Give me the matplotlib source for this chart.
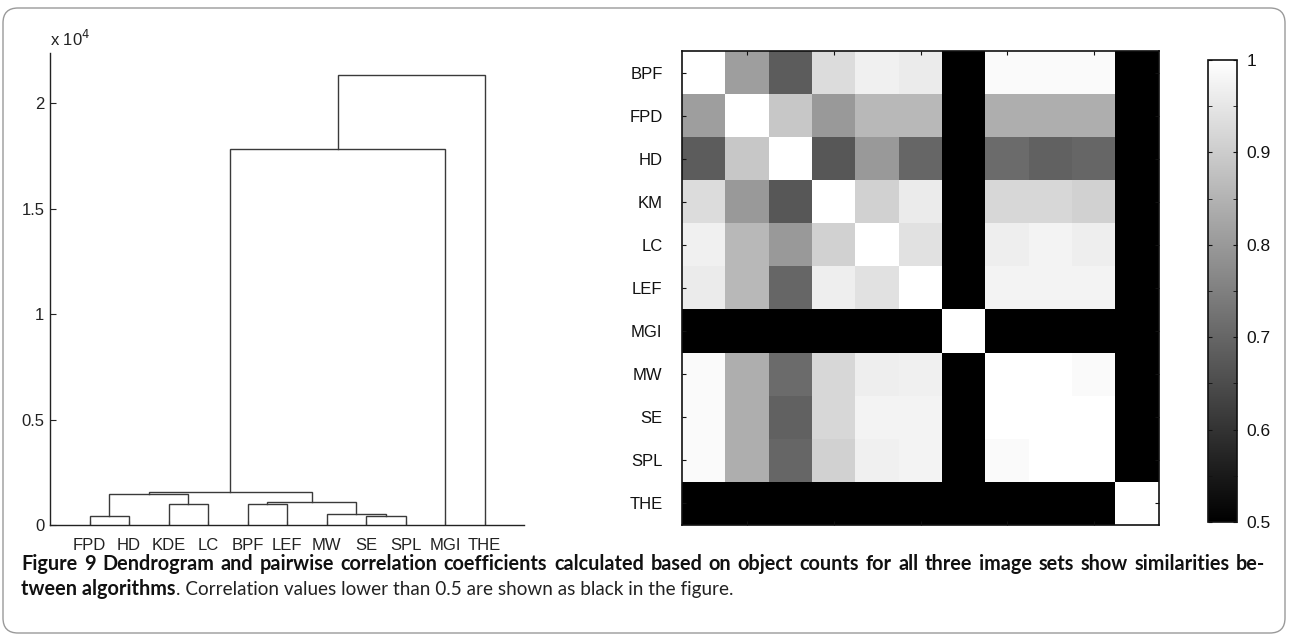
import numpy as np
import matplotlib.pyplot as plt
import matplotlib.ticker as ticker
from matplotlib.patches import FancyBboxPatch

# dendrogram (leaf order as drawn) and merge heights
leaf_labels = ['FPD', 'HD', 'KDE', 'LC', 'BPF', 'LEF', 'MW', 'SE', 'SPL', 'MGI', 'THE']
# (left node, right node, height); leaves are 0..10, merge k makes node 11+k
merges = [(0, 1, 430), (7, 8, 440), (6, 12, 520), (2, 3, 980), (4, 5, 1010),
          (15, 13, 1100), (11, 14, 1470), (17, 16, 1550), (18, 9, 17800),
          (19, 10, 21330)]

# pairwise correlation matrix
algos = ['BPF', 'FPD', 'HD', 'KM', 'LC', 'LEF', 'MGI', 'MW', 'SE', 'SPL', 'THE']
corr = [
    [1.00, 0.81, 0.68, 0.93, 0.97, 0.96, 0.30, 0.99, 0.99, 0.99, 0.30],
    [0.81, 1.00, 0.89, 0.80, 0.86, 0.86, 0.30, 0.84, 0.84, 0.84, 0.30],
    [0.68, 0.89, 1.00, 0.67, 0.80, 0.70, 0.30, 0.71, 0.69, 0.70, 0.30],
    [0.93, 0.80, 0.67, 1.00, 0.91, 0.96, 0.30, 0.92, 0.92, 0.91, 0.30],
    [0.97, 0.86, 0.80, 0.91, 1.00, 0.94, 0.30, 0.965, 0.975, 0.965, 0.30],
    [0.96, 0.86, 0.70, 0.965, 0.94, 1.00, 0.30, 0.975, 0.975, 0.975, 0.30],
    [0.30, 0.30, 0.30, 0.30, 0.30, 0.30, 1.00, 0.30, 0.30, 0.30, 0.30],
    [0.99, 0.84, 0.71, 0.92, 0.965, 0.97, 0.30, 1.00, 1.00, 0.99, 0.30],
    [0.99, 0.84, 0.69, 0.92, 0.975, 0.975, 0.30, 1.00, 1.00, 1.00, 0.30],
    [0.99, 0.84, 0.70, 0.91, 0.97, 0.975, 0.30, 0.99, 1.00, 1.00, 0.30],
    [0.30, 0.30, 0.30, 0.30, 0.30, 0.30, 0.30, 0.30, 0.30, 0.30, 1.00],
]
cbar_ticks = [0.5, 0.6, 0.7, 0.8, 0.9, 1.0]

caption_bold = ('Figure 9 Dendrogram and pairwise correlation coefficients calculated based on '
                'object counts for all three image sets show similarities be-')
caption_bold2 = 'tween algorithms'
caption_rest = '. Correlation values lower than 0.5 are shown as black in the figure.'

plt.rcParams['font.family'] = ['Liberation Sans', 'DejaVu Sans']
plt.rcParams['font.size'] = 12

W, H = 1289, 636
fig = plt.figure(figsize=(W / 100, H / 100), dpi=100)

def px_axes(x0, x1, y0, y1):
    # pixel box (top-down y) -> figure fraction axes
    return fig.add_axes([x0 / W, (H - y1) / H, (x1 - x0) / W, (y1 - y0) / H])

# rounded frame
frame = FancyBboxPatch((0.03, 0.03), 12.82, 6.25,
                       boxstyle='round,pad=0,rounding_size=0.15',
                       transform=fig.dpi_scale_trans, facecolor='none',
                       edgecolor='#9a9a9a', linewidth=1.0)
fig.patches.append(frame)

# ---- dendrogram
ax1 = px_axes(50, 524, 53, 525)
line_c = '#3a3a3a'
pos = {i: (i + 1.0, 0.0) for i in range(len(leaf_labels))}
for k, (a, b, h) in enumerate(merges):
    xa, ha = pos[a]
    xb, hb = pos[b]
    ax1.plot([xa, xa, xb, xb], [ha, h, h, hb], color=line_c, lw=1.0,
             solid_joinstyle='miter')
    pos[len(leaf_labels) + k] = ((xa + xb) / 2, h)

ax1.set_xlim(0, 12)
ax1.set_ylim(0, 22370)
ax1.set_xticks(range(1, len(leaf_labels) + 1))
ax1.set_xticklabels(leaf_labels)
ax1.set_yticks([0, 5000, 10000, 15000, 20000])
ax1.yaxis.set_major_formatter(ticker.FuncFormatter(lambda v, _: f'{v / 1e4:g}'))
ax1.spines['top'].set_visible(False)
ax1.spines['right'].set_visible(False)
for s in ('left', 'bottom'):
    ax1.spines[s].set_color('#222222')
    ax1.spines[s].set_linewidth(1.0)
ax1.tick_params(axis='x', direction='in', length=3, pad=9, colors='#222222',
                labelsize=12)
ax1.tick_params(axis='y', direction='in', length=4, pad=4, colors='#222222',
                labelsize=12)
fig.text(50 / W, 1 - 46 / H, r'x 10$^4$', fontsize=12, color='#222222',
         ha='left', va='baseline')

# ---- correlation heatmap
ax2 = px_axes(682, 1159, 51, 525)
im = ax2.imshow(np.array(corr), cmap='gray', vmin=0.5, vmax=1.0,
                aspect='auto', interpolation='nearest')
ax2.set_yticks(range(len(algos)))
ax2.set_yticklabels(algos)
ax2.set_xticks([1, 3, 5, 7, 9])
ax2.set_xticklabels([])
ax2.tick_params(direction='in', length=3, top=True, right=True, pad=14,
                colors='#111111', labelsize=12)
for s in ax2.spines.values():
    s.set_linewidth(1.2)
    s.set_color('#111111')

# ---- colorbar
cax = px_axes(1208, 1237, 60, 522)
cb = fig.colorbar(im, cax=cax, ticks=cbar_ticks)
cb.ax.set_yticklabels([f'{t:g}' for t in cbar_ticks])
cb.ax.yaxis.set_minor_locator(ticker.MultipleLocator(0.05))
cb.ax.tick_params(which='both', direction='in', length=3, left=True, right=True,
                  pad=7, labelsize=12.5, colors='#111111')
cb.outline.set_linewidth(1.2)
cb.outline.set_edgecolor('#111111')

# ---- caption (justified first line, like the journal layout)
cap_family = ['Lato', 'DejaVu Sans']
fig.canvas.draw()
r = fig.canvas.get_renderer()

def text_width(s, size, weight):
    t = fig.text(0, 0, s, fontsize=size, fontweight=weight, family=cap_family)
    w = t.get_window_extent(r).width
    t.remove()
    return w

fs_b = 12 * 1200 / text_width(caption_bold, 12, 'bold')
fs_r = fs_b * 0.95

words = caption_bold.split(' ')
widths = [text_width(wd, fs_b, 'bold') for wd in words]
gap = (1244 - sum(widths)) / (len(words) - 1)
x = 21.0
for wd, wdt in zip(words, widths):
    fig.text(x / W, 1 - 570 / H, wd, fontsize=fs_b, fontweight='bold',
             family=cap_family, ha='left', va='baseline', color='#111111')
    x += wdt + gap

x2 = 21 + text_width(caption_bold2, fs_b, 'bold')
fig.text(21 / W, 1 - 595 / H, caption_bold2, fontsize=fs_b, fontweight='bold',
         family=cap_family, ha='left', va='baseline', color='#111111')
fig.text(x2 / W, 1 - 595 / H, caption_rest, fontsize=fs_r, family=cap_family,
         ha='left', va='baseline', color='#222222')

fig.savefig('out.png', dpi=100)
